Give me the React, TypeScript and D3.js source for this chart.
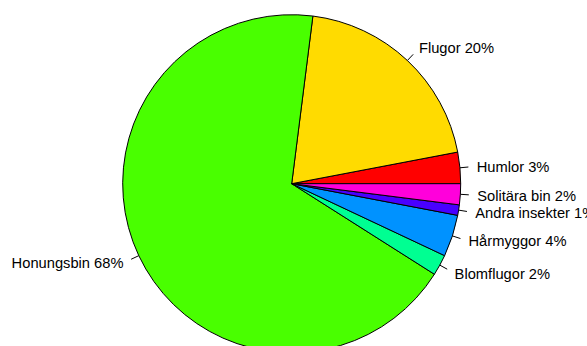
import React from "react";
import * as d3 from "d3";

// Pollinator shares, in drawing order (counter-clockwise from 3 o'clock)
const categories = [
  "Humlor",
  "Flugor",
  "Honungsbin",
  "Blomflugor",
  "Hårmyggor",
  "Andra insekter",
  "Solitära bin",
];
const shares = [3, 20, 68, 2, 4, 1, 2];
const sliceColors = [
  "#FF0000",
  "#FFDB00",
  "#49FF00",
  "#00FF92",
  "#0092FF",
  "#4900FF",
  "#FF00DB",
];

const W = 587;
const H = 346;
const cx = 291.7;
const cy = 183.7;
const R = 169;
const FONT = "'Liberation Sans', Arial, Helvetica, sans-serif";

type Datum = { name: string; value: number; color: string };

export default function App() {
  const data: Datum[] = categories.map((name, i) => ({
    name,
    value: shares[i],
    color: sliceColors[i],
  }));

  // d3 measures angles clockwise from 12 o'clock; start at 3 o'clock and run counter-clockwise
  const pie = d3
    .pie<Datum>()
    .sort(null)
    .value((d) => d.value)
    .startAngle(Math.PI / 2)
    .endAngle(Math.PI / 2 - 2 * Math.PI);

  const arc = d3.arc<d3.PieArcDatum<Datum>>().innerRadius(0).outerRadius(R);
  const arcs = pie(data);

  const pt = (a: number, r: number) => [r * Math.sin(a), -r * Math.cos(a)];

  return (
    <svg
      width={W}
      height={H}
      style={{ position: "absolute", left: 0, top: 0, background: "#fff" }}
    >
      <g transform={`translate(${cx},${cy})`}>
        {arcs.map((a, i) => (
          <path
            key={i}
            d={arc(a) || ""}
            fill={a.data.color}
            stroke="#000"
            strokeWidth={1}
            strokeLinejoin="round"
          />
        ))}
        {arcs.map((a, i) => {
          const mid = (a.startAngle + a.endAngle) / 2;
          const [x0, y0] = pt(mid, R);
          const [x1, y1] = pt(mid, R * 1.05);
          const [tx, ty] = pt(mid, R * 1.1);
          return (
            <g key={`l${i}`}>
              <line x1={x0} y1={y0} x2={x1} y2={y1} stroke="#000" strokeWidth={1} />
              <text
                x={tx}
                y={ty}
                dy="0.36em"
                textAnchor={tx < 0 ? "end" : "start"}
                fontFamily={FONT}
                fontSize={14.7}
                fill="#000"
              >
                {`${a.data.name} ${a.data.value}%`}
              </text>
            </g>
          );
        })}
      </g>
    </svg>
  );
}
